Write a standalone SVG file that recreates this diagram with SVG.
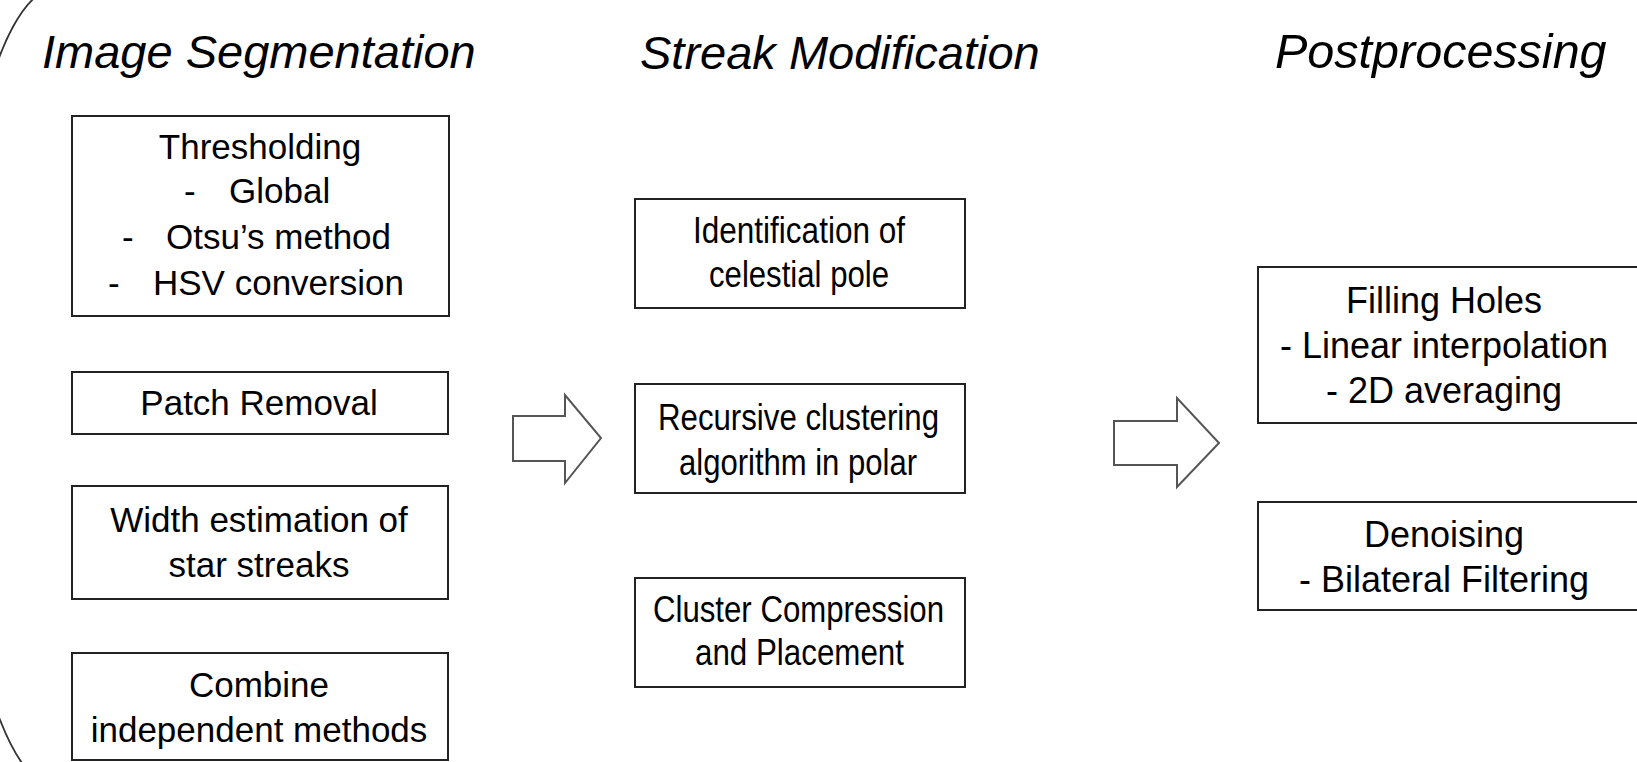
<svg xmlns="http://www.w3.org/2000/svg" width="1637" height="762" viewBox="0 0 1637 762">
<style>
.box{fill:#fff;stroke:#222;stroke-width:2}
.arrow{fill:#fff;stroke:#555;stroke-width:2;stroke-linejoin:miter}
.title{font-family:"Liberation Sans",Arial,sans-serif;font-style:italic;font-size:47px;fill:#000}
.t35{font-family:"Liberation Sans",Arial,sans-serif;font-size:35px;fill:#000}
.t36{font-family:"Liberation Sans",Arial,sans-serif;font-size:36px;fill:#000}
.c{text-anchor:middle}
</style>
<rect width="1637" height="762" fill="#fff"/>
<path d="M46.5,-10 A104,400 0 0 0 32,775" fill="none" stroke="#333" stroke-width="1.8"/>
<g id="titles">
<text class="title" x="42" y="68">Image Segmentation</text>
<text class="title" x="640" y="69">Streak Modification</text>
<text class="title" x="1275" y="68" style="font-size:48.5px">Postprocessing</text>
</g>
<g id="thresholding">
<rect class="box" x="72" y="116" width="377" height="200"/>
<text class="t35 c" x="260" y="159">Thresholding</text>
<text class="t35" y="203"><tspan x="184">-</tspan><tspan x="229">Global</tspan></text>
<text class="t35" y="249"><tspan x="122">-</tspan><tspan x="166">Otsu’s method</tspan></text>
<text class="t35" y="295"><tspan x="108">-</tspan><tspan x="153">HSV conversion</tspan></text>
</g>
<g id="patch-removal">
<rect class="box" x="72" y="372" width="376" height="62"/>
<text class="t35 c" x="259" y="415">Patch Removal</text>
</g>
<g id="width-estimation">
<rect class="box" x="72" y="486" width="376" height="113"/>
<text class="t35 c" x="259" y="532">Width estimation of</text>
<text class="t35 c" x="259" y="577">star streaks</text>
</g>
<g id="combine">
<rect class="box" x="72" y="653" width="376" height="107"/>
<text class="t35 c" x="259" y="697">Combine</text>
<text class="t35 c" x="259" y="742">independent methods</text>
</g>
<g id="identification">
<rect class="box" x="635" y="199" width="330" height="109"/>
<text class="t36" x="693" y="243" textLength="212" lengthAdjust="spacingAndGlyphs">Identification of</text>
<text class="t36" x="709" y="287" textLength="180" lengthAdjust="spacingAndGlyphs">celestial pole</text>
</g>
<g id="recursive-clustering">
<rect class="box" x="635" y="384" width="330" height="109"/>
<text class="t36" x="658" y="430" textLength="281" lengthAdjust="spacingAndGlyphs">Recursive clustering</text>
<text class="t36" x="679" y="475" textLength="238" lengthAdjust="spacingAndGlyphs">algorithm in polar</text>
</g>
<g id="cluster-compression">
<rect class="box" x="635" y="578" width="330" height="109"/>
<text class="t36" x="653" y="622" textLength="291" lengthAdjust="spacingAndGlyphs">Cluster Compression</text>
<text class="t36" x="695" y="665" textLength="209" lengthAdjust="spacingAndGlyphs">and Placement</text>
</g>
<g id="filling-holes">
<rect class="box" x="1258" y="267" width="400" height="156"/>
<text class="t36 c" x="1444" y="313">Filling Holes</text>
<text class="t36 c" x="1444" y="358">- Linear interpolation</text>
<text class="t36 c" x="1444" y="403">- 2D averaging</text>
</g>
<g id="denoising">
<rect class="box" x="1258" y="502" width="400" height="108"/>
<text class="t36 c" x="1444" y="547">Denoising</text>
<text class="t36 c" x="1444" y="592">- Bilateral Filtering</text>
</g>
<g id="connectors">
<path class="arrow" d="M513,416 L565,416 L565,395 L601,438 L565,483 L565,461 L513,461 Z"/>
<path class="arrow" d="M1114,421 L1177,421 L1177,398 L1219,443 L1177,487 L1177,465 L1114,465 Z"/>
</g>
</svg>
